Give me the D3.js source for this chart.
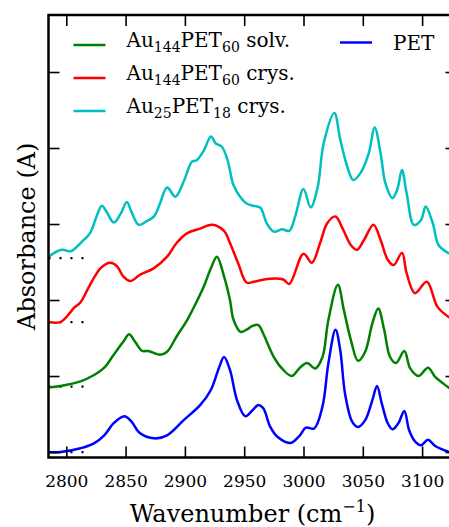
<!DOCTYPE html>
<html>
<head>
<meta charset="utf-8">
<script src="https://cdn.jsdelivr.net/npm/d3@7"></script>
<style>
  body { margin: 0; background: #fff; }
  text { font-family: "DejaVu Serif", serif; fill: #000; }
</style>
</head>
<body>
<div id="plot-container"></div>
<script>
// spectra (wavenumber in cm-1, absorbance incl. vertical offset)
const cyanWn  = [2785,2796,2803,2806,2812,2820,2826,2830,2834,2840,2846,2851,2855,2861,2868,2874,2879,2885,2892,2899,2906,2910,2916,2922,2926,2931,2936,2941,2947,2952,2958,2961,2964,2969,2975,2982,2988,2993,3000,3006,3012,3017,3026,3031,3037,3042,3048,3055,3060,3065,3069,3075,3079,3083,3087,3093,3099,3103,3109,3114,3123];
const cyanAbs = [2.57,2.66,2.64,2.66,2.75,2.88,3.12,3.24,3.16,3.02,3.14,3.29,3.16,2.99,3.04,3.10,3.27,3.48,3.36,3.56,3.82,3.84,3.97,4.15,4.06,4.02,3.84,3.51,3.35,3.27,3.24,3.23,3.21,3.01,2.90,2.93,2.91,3.10,3.46,3.22,3.49,4.06,4.46,4.11,3.75,3.58,3.67,3.93,4.27,3.93,3.54,3.34,3.45,3.71,3.40,2.99,3.05,3.23,3.01,2.72,2.61];

const redWn  = [2785,2795,2803,2806,2812,2820,2829,2837,2843,2848,2854,2862,2874,2885,2893,2902,2913,2923,2933,2938,2945,2952,2958,2964,2972,2983,2988,3000,3007,3014,3020,3027,3033,3040,3045,3051,3059,3065,3071,3076,3083,3087,3094,3104,3113,3123];
const redAbs = [1.71,1.71,1.83,1.89,1.97,2.20,2.42,2.49,2.44,2.31,2.25,2.33,2.42,2.57,2.75,2.88,2.94,2.99,2.91,2.75,2.48,2.23,2.24,2.26,2.28,2.27,2.21,2.61,2.49,2.75,3.01,3.10,2.94,2.72,2.66,2.79,2.99,2.79,2.53,2.46,2.62,2.35,2.09,2.24,1.91,1.77];

const greenWn  = [2785,2795,2812,2823,2832,2840,2848,2853,2858,2864,2869,2879,2885,2893,2902,2910,2916,2922,2927,2933,2938,2941,2947,2952,2957,2962,2966,2975,2983,2990,2997,3003,3010,3016,3021,3029,3034,3040,3046,3052,3058,3063,3068,3073,3078,3085,3090,3097,3105,3111,3118,3123];
const greenAbs = [0.85,0.87,0.93,1.01,1.11,1.28,1.45,1.55,1.45,1.33,1.33,1.28,1.32,1.52,1.74,1.98,2.18,2.42,2.57,2.31,2.00,1.74,1.58,1.61,1.66,1.67,1.56,1.25,1.08,1.00,1.11,1.17,1.10,1.25,1.74,2.20,1.87,1.47,1.20,1.32,1.69,1.89,1.61,1.25,1.17,1.33,1.10,1.00,1.11,0.99,0.90,0.84];

const blueWn  = [2785,2795,2812,2823,2832,2840,2849,2855,2862,2874,2885,2899,2913,2922,2929,2933,2938,2944,2951,2957,2962,2966,2972,2978,2989,2997,3002,3009,3016,3021,3027,3031,3035,3041,3046,3052,3058,3062,3066,3071,3075,3080,3085,3089,3094,3099,3105,3111,3123];
const blueAbs = [0.00,0.00,0.05,0.11,0.22,0.38,0.47,0.40,0.25,0.18,0.22,0.42,0.62,0.82,1.12,1.25,1.08,0.68,0.47,0.55,0.62,0.58,0.33,0.20,0.12,0.22,0.32,0.31,0.60,1.17,1.61,1.34,0.77,0.40,0.33,0.42,0.68,0.87,0.64,0.38,0.30,0.38,0.54,0.29,0.14,0.09,0.16,0.08,0.00];

// dotted baseline levels of the offset spectra
const baselines = [0.00, 0.86, 1.71, 2.55];
const baselineEnd = 2815;

const xTicks = [2800, 2850, 2900, 2950, 3000, 3050, 3100];
const yTicks = [0, 1, 2, 3, 4, 5];

const W = 449, H = 527;
const plot = {left: 48.5, right: 456.5, top: 15, bottom: 457.5};

const svg = d3.select("#plot-container")
    .append("svg")
    .attr("width", W)
    .attr("height", H);

const x = d3.scaleLinear().domain([2785, 3129]).range([plot.left, plot.right]);
const y = d3.scaleLinear().domain([-0.072, 5.75]).range([plot.bottom, plot.top]);

    // dotted baselines
svg.selectAll("line.base")
    .data(baselines)
    .enter()
    .append("line")
    .attr("x1", x(2785))
    .attr("x2", x(baselineEnd))
    .attr("y1", d => y(d))
    .attr("y2", d => y(d))
    .attr("stroke", "black")
    .attr("stroke-width", 2.2)
    .attr("stroke-dasharray", "2,9");

    // spectra
const series = [
    {wn: blueWn,  abs: blueAbs,  color: "#0000ff"},
    {wn: greenWn, abs: greenAbs, color: "#008000"},
    {wn: redWn,   abs: redAbs,   color: "#ff0000"},
    {wn: cyanWn,  abs: cyanAbs,  color: "#00bfbf"}
];

const line = d3.line()
    .x(d => x(d[0]))
    .y(d => y(d[1]))
    .curve(d3.curveCatmullRom.alpha(0.5));

series.forEach(s => {
    svg.append("path")
        .datum(s.wn.map((w, i) => [w, s.abs[i]]))
        .attr("fill", "none")
        .attr("stroke", s.color)
        .attr("stroke-width", 2.5)
        .attr("stroke-linejoin", "round")
        .attr("d", line);
});

    // axes, ticks pointing inward
const bottomAxis = svg.append("g")
    .attr("transform", `translate(0,${plot.bottom})`)
    .call(d3.axisBottom(x).tickValues(xTicks).tickSize(-11).tickPadding(17).tickFormat(d3.format("d")));
svg.append("g")
    .attr("transform", `translate(0,${plot.top})`)
    .call(d3.axisTop(x).tickValues(xTicks).tickSize(-11).tickFormat(""));
svg.append("g")
    .attr("transform", `translate(${plot.left},0)`)
    .call(d3.axisLeft(y).tickValues(yTicks).tickSize(-11).tickFormat(""));
svg.append("g")
    .attr("transform", `translate(${plot.right},0)`)
    .call(d3.axisRight(y).tickValues(yTicks).tickSize(-11).tickFormat(""));

svg.selectAll(".domain").remove();
svg.selectAll(".tick line").attr("stroke", "black").attr("stroke-width", 1.6);
bottomAxis.selectAll(".tick text")
    .style("font-family", "'DejaVu Serif', serif")
    .style("font-size", "17px")
    .attr("fill", "black");

    // frame
svg.append("rect")
    .attr("x", plot.left)
    .attr("y", plot.top)
    .attr("width", plot.right - plot.left)
    .attr("height", plot.bottom - plot.top)
    .attr("fill", "none")
    .attr("stroke", "black")
    .attr("stroke-width", 2.5);

    // axis labels
const xl = svg.append("text")
    .attr("text-anchor", "middle")
    .attr("x", (plot.left + plot.right) / 2)
    .attr("y", 521.5)
    .style("font-size", "24px");
xl.append("tspan").text("Wavenumber (cm");
xl.append("tspan").attr("dy", -10).style("font-size", "16px").text("\u22121");
xl.append("tspan").attr("dy", 10).text(")");

svg.append("text")
    .attr("text-anchor", "middle")
    .attr("transform", "rotate(-90)")
    .attr("x", -(plot.top + plot.bottom) / 2)
    .attr("y", 35)
    .style("font-size", "24px")
    .text("Absorbance (A)");

    // legend (parts: [text, isSubscript])
const legend = [
    {parts: [["Au", 0], ["144", 1], ["PET", 0], ["60", 1], [" solv.", 0]], color: "#008000", lx: 73.5, ly: 45, tx: 126.5, ty: 46.7},
    {parts: [["Au", 0], ["144", 1], ["PET", 0], ["60", 1], [" crys.", 0]], color: "#ff0000", lx: 73.5, ly: 78, tx: 126.5, ty: 80},
    {parts: [["Au", 0], ["25", 1], ["PET", 0], ["18", 1], [" crys.", 0]], color: "#00bfbf", lx: 73.5, ly: 111, tx: 126.5, ty: 113.3},
    {parts: [["PET", 0]], color: "#0000ff", lx: 340, ly: 42.5, tx: 393, ty: 50}
];

legend.forEach(l => {
    svg.append("line")
        .attr("x1", l.lx).attr("x2", l.lx + 32)
        .attr("y1", l.ly).attr("y2", l.ly)
        .attr("stroke", l.color)
        .attr("stroke-width", 2.5);
    const t = svg.append("text")
        .attr("x", l.tx)
        .attr("y", l.ty)
        .style("font-size", "20px");
    let shifted = 0;
    l.parts.forEach(p => {
        const dy = p[1] ? 5 - shifted : -shifted;
        shifted += dy;
        t.append("tspan")
            .attr("dy", dy)
            .style("font-size", p[1] ? "14px" : "20px")
            .text(p[0]);
    });
});
</script>
</body>
</html>
